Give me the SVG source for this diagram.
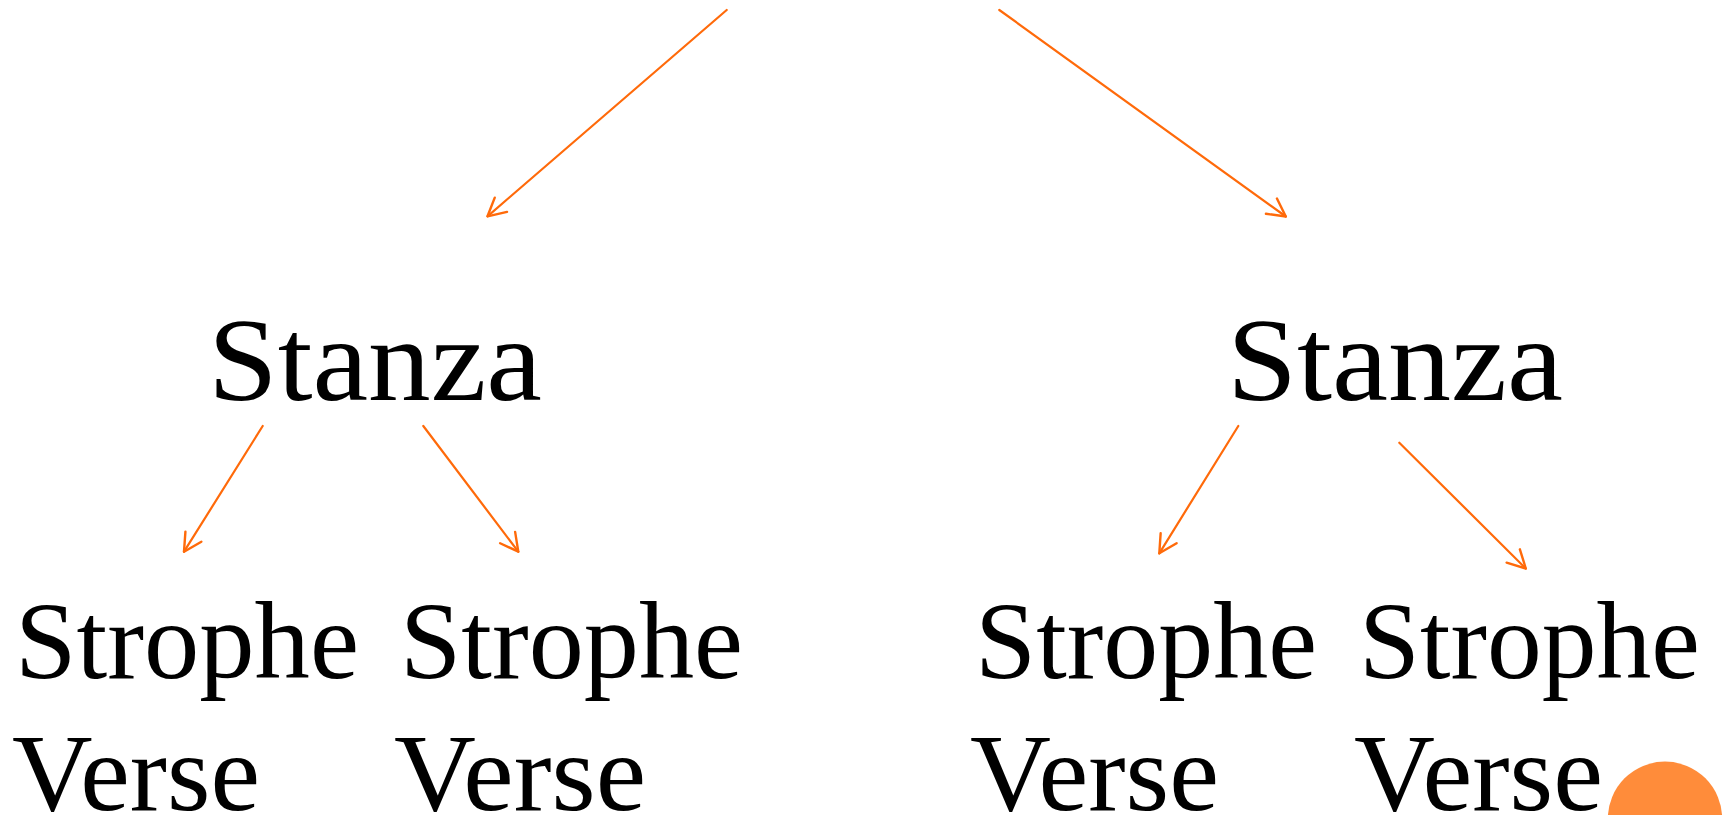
<svg xmlns="http://www.w3.org/2000/svg" width="1727" height="815" viewBox="0 0 1727 815">
  <style>
    .lbl { font-family: "Liberation Serif", "Times New Roman", serif; fill: #000; }
    .stanza { font-size: 118px; }
    .leaf { font-size: 110px; }
    .edge { stroke: #FF6A0A; stroke-width: 2.2; fill: none; stroke-linecap: round; }
  </style>
  <defs>
    <marker id="arrow" markerUnits="userSpaceOnUse" markerWidth="40" markerHeight="40" refX="0" refY="0" viewBox="-22 -20 30 40" orient="auto" overflow="visible">
      <path d="M -17.7,-9.4 L 0,0 L -17.7,9.4" fill="none" stroke="#FF6A0A" stroke-width="2.4" stroke-linecap="round" stroke-linejoin="round"/>
    </marker>
  </defs>
  <rect width="1727" height="815" fill="#fff"/>

  <!-- tree edges -->
  <g id="connectors">
    <line class="edge" x1="726.7" y1="10" x2="487.5" y2="216.3" marker-end="url(#arrow)"/>
    <line class="edge" x1="999.3" y1="10" x2="1285.8" y2="216.5" marker-end="url(#arrow)"/>
    <line class="edge" x1="262.7" y1="426" x2="184" y2="551.7" marker-end="url(#arrow)"/>
    <line class="edge" x1="423.3" y1="426" x2="518.3" y2="551.7" marker-end="url(#arrow)"/>
    <line class="edge" x1="1238.3" y1="426" x2="1159.3" y2="553.3" marker-end="url(#arrow)"/>
    <line class="edge" x1="1399.3" y1="442.7" x2="1525.8" y2="568.5" marker-end="url(#arrow)"/>
  </g>

  <!-- stanza level -->
  <g id="stanza-left">
    <text class="lbl stanza" x="208" y="400" textLength="334" lengthAdjust="spacingAndGlyphs">Stanza</text>
  </g>
  <g id="stanza-right">
    <text class="lbl stanza" x="1227" y="400" textLength="336" lengthAdjust="spacingAndGlyphs">Stanza</text>
  </g>

  <!-- strophe / verse leaves -->
  <g id="leaf-1">
    <text class="lbl leaf" x="15" y="678" textLength="344" lengthAdjust="spacingAndGlyphs">Strophe</text>
    <text class="lbl leaf" x="12" y="810" textLength="248" lengthAdjust="spacingAndGlyphs">Verse</text>
  </g>
  <g id="leaf-2">
    <text class="lbl leaf" x="400" y="678" textLength="343" lengthAdjust="spacingAndGlyphs">Strophe</text>
    <text class="lbl leaf" x="394" y="810" textLength="252" lengthAdjust="spacingAndGlyphs">Verse</text>
  </g>
  <g id="leaf-3">
    <text class="lbl leaf" x="975" y="678" textLength="342" lengthAdjust="spacingAndGlyphs">Strophe</text>
    <text class="lbl leaf" x="970" y="810" textLength="249" lengthAdjust="spacingAndGlyphs">Verse</text>
  </g>
  <g id="leaf-4">
    <text class="lbl leaf" x="1359" y="678" textLength="341" lengthAdjust="spacingAndGlyphs">Strophe</text>
    <text class="lbl leaf" x="1354" y="810" textLength="249" lengthAdjust="spacingAndGlyphs">Verse</text>
  </g>

  <!-- corner badge -->
  <circle id="badge" cx="1665" cy="818.8" r="57.2" fill="#FF8C3A"/>
</svg>
